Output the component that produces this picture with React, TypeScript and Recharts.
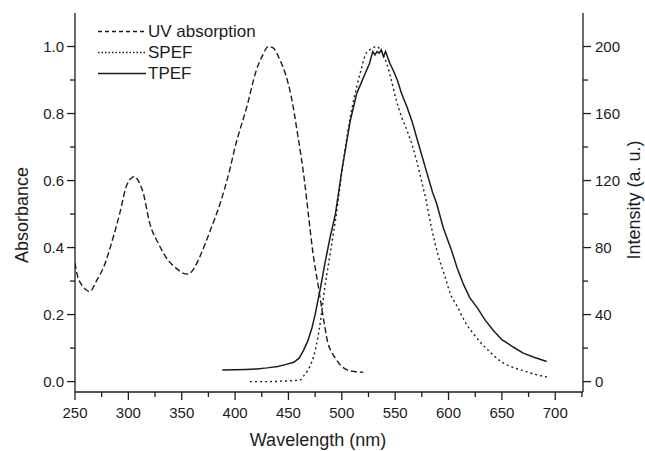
import { LineChart, Line, XAxis, YAxis, Label } from "recharts";

// UV absorption (left axis)
const uvNm = [
  250, 252, 256, 260, 264, 270, 277, 286, 292, 298, 302, 306, 310, 314, 320,
  328, 337, 345, 351, 356, 362, 367, 377, 386, 395, 400, 411, 420, 426, 431,
  436, 442, 447, 452, 459, 465, 469, 473, 478, 483, 487, 491, 495, 500, 505,
  512, 520,
];
const uvAbs = [
  0.354, 0.32, 0.29, 0.275, 0.269, 0.3, 0.343, 0.433, 0.503, 0.582, 0.605,
  0.612, 0.595, 0.562, 0.473, 0.413, 0.363, 0.338, 0.324, 0.321, 0.34, 0.373,
  0.453, 0.532, 0.632, 0.7, 0.82, 0.93, 0.975, 1.0, 0.995, 0.96, 0.92, 0.86,
  0.73, 0.6, 0.49, 0.383, 0.284, 0.184, 0.115, 0.085, 0.065, 0.045, 0.035,
  0.03, 0.028,
];

// SPEF (right axis)
const spefNm = [
  414, 430, 445, 455, 461, 465, 468, 472, 475, 480, 484, 488, 491, 494, 498,
  502, 508, 514, 518, 522, 526, 529, 532, 535, 538, 542, 546, 551, 556, 561,
  566, 570, 575, 578, 584, 590, 596, 602, 608, 616, 624, 632, 640, 648, 658,
  670, 680, 695,
];
const spefInt = [
  0, 0, 0.3, 0.6, 1, 4, 6.6, 12, 18.5, 36, 56, 72, 84, 96, 115, 134, 158, 176,
  186, 195, 198, 199, 200, 199, 196, 190, 181, 168, 158, 150, 141, 132, 119,
  111, 92, 76, 64, 52, 45, 35, 28, 22, 17, 12.5, 9, 6.6, 4.5, 2.4,
];

// TPEF (right axis)
const tpefNm = [
  388, 400, 410, 420, 430, 440, 448, 455, 460, 464, 468, 472, 475, 480, 484,
  489, 494, 500, 504, 508, 514, 518, 522, 526, 529, 531, 533, 535, 537, 539,
  541, 545, 548, 552, 556, 561, 566, 570, 575, 580, 585, 589, 595, 603, 608,
  614, 620, 627, 634, 642, 650, 661, 670, 680, 692,
];
const tpefInt = [
  7, 7.1, 7.3, 7.6, 8.2, 9, 10.3, 11.5, 14, 18.5, 24, 32, 40, 56, 70, 86, 100,
  126, 141, 156, 172, 178, 184, 190, 197, 195, 197, 196, 198, 194, 197, 190,
  186, 180, 172, 164, 155, 146, 135, 124, 113, 106, 92, 78, 68, 58, 50, 44, 37,
  30.5, 25, 20.5, 17, 14.5, 12,
];

const xTicks = [
  250, 275, 300, 325, 350, 375, 400, 425, 450, 475, 500, 525, 550, 575, 600,
  625, 650, 675, 700, 725,
];
const absTicks = [0, 0.1, 0.2, 0.3, 0.4, 0.5, 0.6, 0.7, 0.8, 0.9, 1.0];
const intTicks = [0, 20, 40, 60, 80, 100, 120, 140, 160, 180, 200];

const uvData = uvNm.map((nm, i) => ({ nm, v: uvAbs[i] }));
const spefData = spefNm.map((nm, i) => ({ nm, v: spefInt[i] }));
const tpefData = tpefNm.map((nm, i) => ({ nm, v: tpefInt[i] }));

const INK = "#1c1c1c";
const FONT = "'Liberation Sans', Arial, sans-serif";

const XTick = (props: any) => {
  const { x, y, payload } = props;
  const major = payload.value % 50 === 0;
  return (
    <g>
      <line x1={x} x2={x} y1={y} y2={y + (major ? 8 : 5)} stroke={INK} strokeWidth={1.3} />
      {major && (
        <text x={x} y={y + 26} textAnchor="middle" fontSize={15} fill={INK} fontFamily={FONT}>
          {payload.value}
        </text>
      )}
    </g>
  );
};

const AbsTick = (props: any) => {
  const { x, y, payload } = props;
  const major = Math.round(payload.value * 10) % 2 === 0;
  return (
    <g>
      <line x1={x - (major ? 8 : 5)} x2={x} y1={y} y2={y} stroke={INK} strokeWidth={1.3} />
      {major && (
        <text x={x - 11} y={y + 5} textAnchor="end" fontSize={15} fill={INK} fontFamily={FONT}>
          {payload.value.toFixed(1)}
        </text>
      )}
    </g>
  );
};

const IntTick = (props: any) => {
  const { x, y, payload } = props;
  const major = payload.value % 40 === 0;
  return (
    <g>
      <line x1={x} x2={x + (major ? 8 : 5)} y1={y} y2={y} stroke={INK} strokeWidth={1.3} />
      {major && (
        <text x={x + 12} y={y + 5} textAnchor="start" fontSize={15} fill={INK} fontFamily={FONT}>
          {payload.value}
        </text>
      )}
    </g>
  );
};

const legendItems = [
  { name: "UV absorption", dash: "4 3" },
  { name: "SPEF", dash: "1.5 2" },
  { name: "TPEF", dash: undefined },
];

const LegendBox = () => (
  <div
    style={{
      position: "absolute",
      left: 98,
      top: 21,
      fontFamily: FONT,
      fontSize: 17,
      color: INK,
    }}
  >
    {legendItems.map((it) => (
      <div key={it.name} style={{ display: "flex", alignItems: "center", height: 21 }}>
        <svg width={50} height={21} style={{ display: "block" }}>
          <line x1={0} x2={48} y1={10.5} y2={10.5} stroke={INK} strokeWidth={1.4} strokeDasharray={it.dash} />
        </svg>
        <span style={{ lineHeight: "21px" }}>{it.name}</span>
      </div>
    ))}
  </div>
);

export default function App() {
  return (
    <div style={{ position: "absolute", left: 0, top: 0, width: 645, height: 451, background: "#fff" }}>
      <LineChart
        width={645}
        height={451}
        margin={{ top: 13, right: 0, left: 15, bottom: 29 }}
        style={{ fontFamily: FONT }}
      >
        <XAxis
          xAxisId="bottom"
          dataKey="nm"
          type="number"
          domain={[250, 726]}
          allowDataOverflow
          ticks={xTicks}
          interval={0}
          tick={<XTick />}
          tickLine={false}
          tickSize={0}
          tickMargin={0}
          height={30}
          axisLine={{ stroke: INK, strokeWidth: 1.3 }}
        >
          <Label
            content={() => (
              <text x={318} y={446} textAnchor="middle" fontSize={18} fill={INK} fontFamily={FONT}>
                Wavelength (nm)
              </text>
            )}
          />
        </XAxis>
        <XAxis
          xAxisId="top"
          orientation="top"
          type="number"
          domain={[250, 726]}
          tick={false}
          tickLine={false}
          height={0}
          axisLine={{ stroke: INK, strokeWidth: 1.3 }}
        />
        <YAxis
          yAxisId="abs"
          type="number"
          domain={[-0.031, 1.1]}
          allowDataOverflow
          ticks={absTicks}
          interval={0}
          tick={<AbsTick />}
          tickLine={false}
          tickSize={0}
          tickMargin={0}
          width={60}
          axisLine={{ stroke: INK, strokeWidth: 1.3 }}
        >
          <Label
            content={() => (
              <text
                x={28}
                y={215}
                transform="rotate(-90 28 215)"
                textAnchor="middle"
                fontSize={18}
                fill={INK}
                fontFamily={FONT}
              >
                Absorbance
              </text>
            )}
          />
        </YAxis>
        <YAxis
          yAxisId="int"
          orientation="right"
          type="number"
          domain={[-6.2, 220]}
          allowDataOverflow
          ticks={intTicks}
          interval={0}
          tick={<IntTick />}
          tickLine={false}
          tickSize={0}
          tickMargin={0}
          width={62}
          axisLine={{ stroke: INK, strokeWidth: 1.3 }}
        >
          <Label
            content={() => (
              <text
                x={640}
                y={200}
                transform="rotate(-90 640 200)"
                textAnchor="middle"
                fontSize={18}
                fill={INK}
                fontFamily={FONT}
              >
                Intensity (a. u.)
              </text>
            )}
          />
        </YAxis>
        <Line
          data={uvData}
          dataKey="v"
          xAxisId="bottom"
          yAxisId="abs"
          type="monotone"
          stroke={INK}
          strokeWidth={1.4}
          strokeDasharray="6 3"
          dot={false}
          isAnimationActive={false}
        />
        <Line
          data={spefData}
          dataKey="v"
          xAxisId="bottom"
          yAxisId="int"
          type="monotone"
          stroke={INK}
          strokeWidth={1.4}
          strokeDasharray="2 3"
          dot={false}
          isAnimationActive={false}
        />
        <Line
          data={tpefData}
          dataKey="v"
          xAxisId="bottom"
          yAxisId="int"
          type="linear"
          stroke={INK}
          strokeWidth={1.5}
          dot={false}
          isAnimationActive={false}
        />
      </LineChart>
      <LegendBox />
    </div>
  );
}
